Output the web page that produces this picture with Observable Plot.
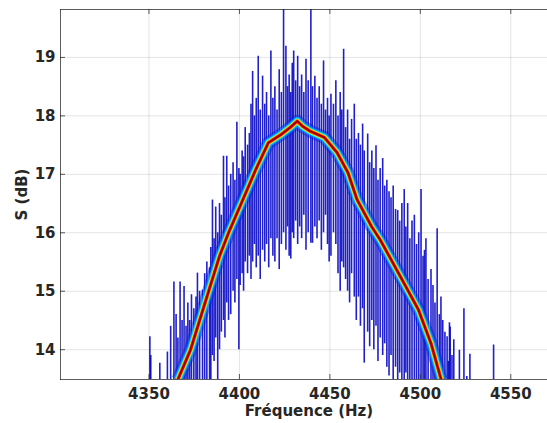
<!DOCTYPE html>
<html>
<head>
<meta charset="utf-8">
<script src="https://cdn.jsdelivr.net/npm/d3@7"></script>
<script src="https://cdn.jsdelivr.net/npm/@observablehq/plot@0.6"></script>
<style>
  html, body { margin: 0; padding: 0; background: #fff; }
  #chart svg { display: block; }
</style>
</head>
<body>
<div id="chart"></div>
<script>
// ---- data ----
const xTicks = [4350, 4400, 4450, 4500, 4550];
const yTicks = [14, 15, 16, 17, 18, 19];
const xDomain = [4301.1, 4570.3];
const yDomain = [13.49, 19.82];
const xLabel = "Fréquence (Hz)";
const yLabel = "S (dB)";

// central (most frequent) trace
const centerFreq = [4366, 4373, 4378, 4383, 4389, 4394, 4401, 4409, 4416, 4423, 4428, 4432, 4435, 4439, 4447, 4454, 4460, 4465, 4473, 4478, 4489, 4499, 4506, 4511.5];
const centerS    = [13.49, 14.0, 14.5, 15.0, 15.6, 16.0, 16.5, 17.08, 17.54, 17.68, 17.8, 17.91, 17.82, 17.74, 17.63, 17.37, 17.03, 16.57, 16.11, 15.87, 15.25, 14.68, 14.1, 13.49];

// noisy individual traces: frequency, lowest and highest value reached
const noiseFreq = [4350.5,4351,4356,4360.2,4362,4363.8,4365,4366,4367.2,4368.3,4369.4,4370.5,4371.5,4372.5,4373.5,4374.8,4376,4376.8,4378,4379.6,4380.8,4382,4383.5,4384.2,4385.1,4386,4386.9,4388,4389,4390,4391.2,4392,4393,4394,4395.2,4396.5,4397.5,4398.6,4399.7,4400.4,4401.5,4402.3,4403.2,4404.5,4405.5,4406.4,4407.3,4408.3,4409.3,4410.4,4411.5,4412.8,4414,4415,4416.2,4417.4,4418.5,4419.6,4420.8,4422,4423.2,4424.4,4425.7,4426.6,4427.5,4428.4,4429.2,4430,4431.1,4432.2,4433.3,4434.4,4435.6,4436.8,4438,4439.5,4440.4,4441.7,4442.9,4444.1,4445.3,4446.5,4447.6,4448.7,4449.6,4450.6,4452,4453.3,4454.5,4455.7,4456.6,4457.6,4458.7,4459.8,4460.9,4462,4463.5,4464.6,4465.8,4466.9,4468.1,4469,4470.9,4472,4473.2,4474.3,4475.5,4476.6,4477.8,4479.2,4480.3,4481.5,4482.7,4483.8,4485,4486.3,4487.5,4488.6,4489.8,4491.1,4492,4493,4494.2,4495.4,4496.7,4497.9,4499.1,4500.4,4501.5,4502.3,4503.1,4504.3,4505.9,4507,4508.1,4509.3,4510.5,4511.4,4512.4,4513.6,4514.8,4515.5,4516.1,4516.5,4517.5,4518.5,4521.6,4524.1,4525.7,4527.4,4540.5];
const noiseLow = [13.49,13.49,13.49,13.49,13.49,13.49,13.49,13.49,13.49,13.49,13.49,13.49,13.49,13.49,13.49,13.49,13.49,13.49,13.49,13.49,13.49,13.49,13.49,13.49,13.9,13.8,14.2,13.49,14.0,14.3,14.5,14.2,14.8,14.5,14.6,15.0,14.8,15.2,14.0,15.1,15.3,15.0,15.5,15.3,15.6,15.2,15.5,15.8,15.4,15.6,15.2,15.7,15.5,15.8,15.4,15.9,15.6,15.5,15.9,15.37,15.8,16.0,15.7,16.1,15.6,15.55,16.0,15.9,16.2,15.8,16.1,15.9,16.3,15.7,16.0,15.82,15.82,16.1,15.9,16.2,15.7,16.0,16.3,15.8,15.5,15.6,16.0,15.8,15.3,15.0,15.5,15.4,15.2,15.0,14.8,15.3,14.9,14.5,14.9,14.4,14.7,13.77,14.3,14.05,14.5,14.0,14.4,13.8,14.2,13.9,14.1,13.7,13.55,13.9,13.49,13.7,13.49,13.6,13.49,13.49,13.6,13.49,13.49,13.49,13.49,13.49,13.49,13.49,13.49,13.49,13.49,13.49,13.49,13.49,13.49,13.49,13.49,13.49,13.49,13.49,13.49,13.49,13.49,13.49,13.49,13.49,13.49,13.49,13.49,13.49,13.49,13.49];
const noiseHigh = [14.22,13.9,13.77,13.96,14.4,15.16,14.6,14.2,15.16,14.5,15.08,14.4,14.8,14.5,14.94,14.7,14.9,15.31,15.0,15.02,15.3,15.5,15.4,15.75,16.56,15.9,16.44,16.0,16.5,16.3,17.31,16.6,17.31,16.8,17.0,17.2,16.9,17.89,17.1,17.0,17.4,17.3,17.8,17.5,17.7,18.2,18.76,18.0,18.3,19.02,18.1,18.68,18.2,18.4,18.0,19.11,18.3,18.5,18.1,18.79,18.4,19.82,19.19,18.5,18.7,18.4,18.9,19.11,18.6,19.02,18.5,18.7,18.4,18.97,18.6,19.82,18.5,18.68,18.3,18.5,18.2,18.94,18.1,18.3,18.0,18.37,18.2,18.6,18.0,18.4,18.1,19.14,17.8,18.1,17.6,17.94,18.2,17.6,17.7,17.5,17.86,17.4,17.69,17.2,17.4,17.1,17.49,16.9,17.1,17.27,16.8,16.9,16.7,16.6,16.8,16.4,16.38,16.2,16.5,16.74,16.1,16.5,15.9,16.2,16.3,15.8,16.0,16.74,15.6,15.7,15.9,15.2,15.37,15.1,14.8,16.07,14.6,14.9,14.5,14.3,14.22,13.8,14.46,14.39,13.9,14.17,13.99,14.7,13.54,13.92,14.08];

// ---- tables ----
const center = centerFreq.map((f, i) => ({f, s: centerS[i]}));
const noise = noiseFreq.map((f, i) => ({f, lo: noiseLow[i], hi: noiseHigh[i]}));
const yMid = (yDomain[0] + yDomain[1]) / 2;

const ink = "#262626";
const bands = [
  {stroke: "#0020e0", width: 13, opacity: 0.5},
  {stroke: "#00a0ff", width: 9, opacity: 0.6},
  {stroke: "#00e8ff", width: 7, opacity: 0.75},
  {stroke: "#90ff80", width: 5.2, opacity: 0.85},
  {stroke: "#ffe000", width: 4.4, opacity: 1},
  {stroke: "#ff6000", width: 3.5, opacity: 1},
  {stroke: "#dc0000", width: 2.6, opacity: 1},
  {stroke: "#7a0000", width: 1.1, opacity: 1}
];

const chart = Plot.plot({
  width: 547,
  height: 423,
  marginLeft: 60,
  marginTop: 9,
  marginBottom: 44,
  marginRight: 0,
  style: {fontFamily: "'DejaVu Sans', sans-serif", fontWeight: "bold", fontSize: "15px", color: ink, background: "#fff"},
  x: {domain: xDomain, label: null},
  y: {domain: yDomain, label: null},
  marks: [
    Plot.gridX(xTicks, {stroke: "#000", strokeOpacity: 0.11}),
    Plot.gridY(yTicks, {stroke: "#000", strokeOpacity: 0.11}),
    Plot.ruleX(noise, {x: "f", y1: "lo", y2: "hi", stroke: "#0000c4", strokeOpacity: 0.88, strokeWidth: 1.6, clip: true}),
    ...bands.map(b => Plot.line(center, {x: "f", y: "s", stroke: b.stroke, strokeWidth: b.width, strokeOpacity: b.opacity, clip: true, strokeLinejoin: "round", strokeLinecap: "butt"})),
    Plot.frame({anchor: "left", stroke: ink, strokeOpacity: 0.75}),
    Plot.frame({anchor: "top", stroke: ink, strokeOpacity: 0.75}),
    Plot.frame({anchor: "bottom", stroke: ink, strokeOpacity: 0.75}),
    Plot.tickX(xTicks, {x: d => d, insetTop: 365, stroke: ink, strokeOpacity: 0.75}),
    Plot.tickX(xTicks, {x: d => d, insetBottom: 365, stroke: ink, strokeOpacity: 0.75}),
    Plot.tickY(yTicks, {y: d => d, insetRight: 482, stroke: ink, strokeOpacity: 0.75}),
    Plot.axisX(xTicks, {tickSize: 0, tickPadding: 9, tickFormat: d => String(d), label: null, fontWeight: "bold", fill: ink}),
    Plot.axisY(yTicks, {tickSize: 0, tickPadding: 5, tickFormat: d => String(d), label: null, fontWeight: "bold", fill: ink}),
    Plot.text([xLabel], {frameAnchor: "bottom", dy: 36, dx: 5, fontWeight: "bold", fontSize: 15, fill: ink}),
    Plot.text([yLabel], {x: () => xDomain[0], y: () => yMid, dx: -38, rotate: -90, textAnchor: "middle", fontWeight: "bold", fontSize: 15, fill: ink})
  ]
});
document.getElementById("chart").appendChild(chart);
</script>
</body>
</html>
